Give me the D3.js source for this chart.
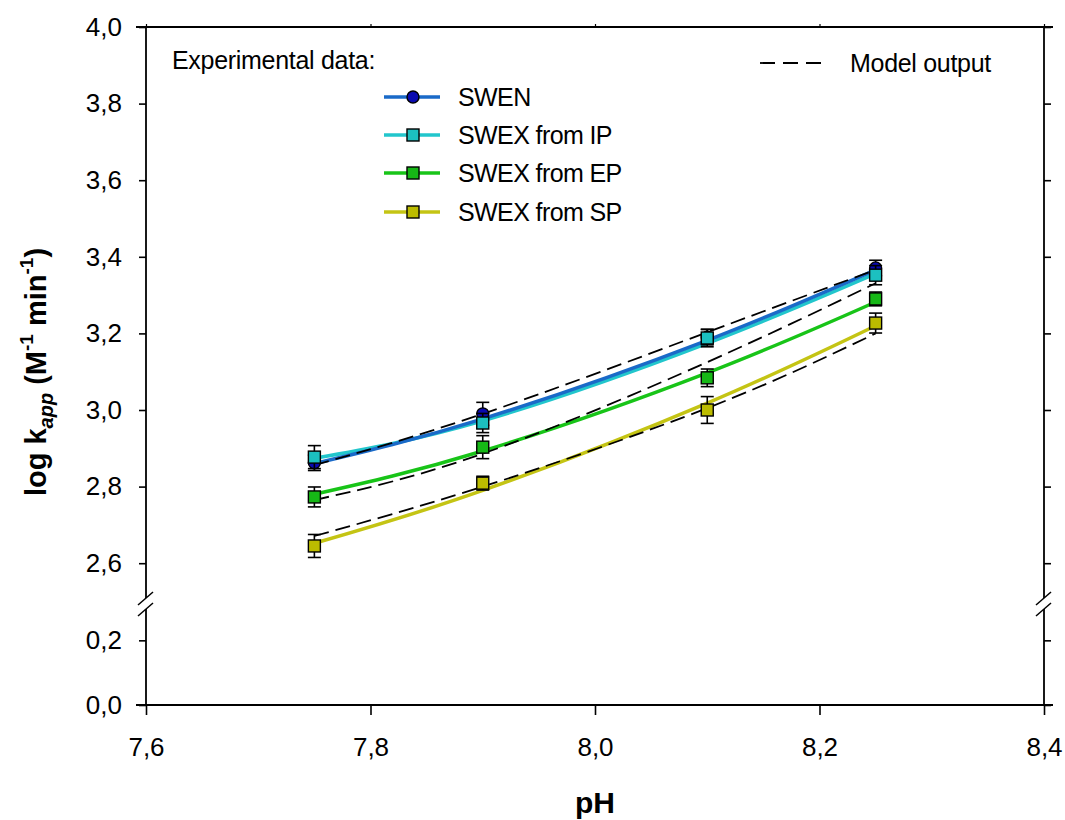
<!DOCTYPE html>
<html>
<head>
<meta charset="utf-8">
<script src="https://cdn.jsdelivr.net/npm/d3@7"></script>
<style>
  html, body { margin: 0; padding: 0; background: #fff; }
  svg { display: block; font-family: "Liberation Sans", Arial, sans-serif; }
</style>
</head>
<body>
<svg id="chart" width="1065" height="820"></svg>
<script>
// Measured pH values
const pH = [7.75, 7.9, 8.1, 8.25];

// Experimental log k_app values (M^-1 min^-1) and their errors
const swen     = [2.862, 2.990, 3.190, 3.371];
const swexIP   = [2.877, 2.966, 3.188, 3.352];
const swexEP   = [2.773, 2.903, 3.084, 3.290];
const swexSP   = [2.645, 2.809, 3.000, 3.227];
const errSWEN  = [0.020, 0.030, 0.020, 0.020];
const errIP    = [0.030, 0.025, 0.023, 0.025];
const errEP    = [0.026, 0.030, 0.023, 0.018];
const errSP    = [0.030, 0.018, 0.035, 0.026];

// Fitted trend curves through each data set
const fitSWEN  = [2.860, 2.977, 3.182, 3.366];
const fitIP    = [2.874, 2.972, 3.174, 3.356];
const fitEP    = [2.780, 2.893, 3.097, 3.282];
const fitSP    = [2.652, 2.790, 3.018, 3.220];

// Model output curves (dashed)
const model1   = [2.856, 2.990, 3.203, 3.366];
const model2   = [2.765, 2.886, 3.125, 3.331];
const model3   = [2.671, 2.800, 3.005, 3.200];

// Axis ticks
const xTicks      = [7.6, 7.8, 8.0, 8.2, 8.4];
const yTicksUpper = [2.6, 2.8, 3.0, 3.2, 3.4, 3.6, 3.8, 4.0];
const yTicksLower = [0.0, 0.2];

const seriesNames  = ["SWEN", "SWEX from IP", "SWEX from EP", "SWEX from SP"];
const lineColors   = ["#1a6ac8", "#22c6cc", "#18c418", "#c4c414"];
const markerColors = ["#0a0ab0", "#1cc0c0", "#16b816", "#bcbc00"];
const markerShapes = ["circle", "square", "square", "square"];

const svg = d3.select("#chart");
const L = 146, R = 1044, T = 27, B = 705;
const breakTop = 601.5, breakBot = 608;

const x = d3.scaleLinear().domain([7.6, 8.4]).range([L, R]);
const yU = d3.scaleLinear().domain([2.5, 4.0]).range([breakTop, T]);
const yL = d3.scaleLinear().domain([0, 0.3]).range([B, breakBot]);
const fmt = d => d3.format(".1f")(d).replace(".", ",");

// ---- axes ----
const axisG = svg.append("g");
const tickFont = g => g.selectAll("text")
  .attr("font-size", 26).attr("fill", "#000")
  .attr("font-family", "'Liberation Sans', Arial, sans-serif");

function yAxes(scale, ticks) {
  const left = axisG.append("g").attr("transform", `translate(${L},0)`)
    .call(d3.axisLeft(scale).tickValues(ticks).tickFormat(fmt).tickSize(7).tickPadding(17));
  left.select(".domain").remove();
  left.selectAll("line").attr("stroke", "#000").attr("stroke-width", 1.6);
  tickFont(left);
  const right = axisG.append("g").attr("transform", `translate(${R},0)`)
    .call(d3.axisRight(scale).tickValues(ticks).tickFormat("").tickSize(7));
  right.select(".domain").remove();
  right.selectAll("line").attr("stroke", "#000").attr("stroke-width", 1.6);
}
yAxes(yU, yTicksUpper);
yAxes(yL, yTicksLower);

const xb = axisG.append("g").attr("transform", `translate(0,${B})`)
  .call(d3.axisBottom(x).tickValues(xTicks).tickFormat(fmt).tickSize(10).tickPadding(23));
xb.select(".domain").remove();
xb.selectAll("line").attr("stroke", "#000").attr("stroke-width", 1.6);
tickFont(xb);

const xt = axisG.append("g").attr("transform", `translate(0,${T})`)
  .call(d3.axisTop(x).tickValues(xTicks).tickFormat("").tickSize(3));
xt.select(".domain").remove();
xt.selectAll("line").attr("stroke", "#000").attr("stroke-width", 1.2);

// frame lines (with a gap at the axis break)
const frame = [
  [L - 10, B, R + 9, B],
  [L - 10, T, R + 9, T],
  [L, T, L, 598], [L, 609, L, B],
  [R, T, R, 598], [R, 609, R, B]
];
axisG.selectAll("line.frame").data(frame).enter().append("line")
  .attr("class", "frame")
  .attr("x1", d => d[0]).attr("y1", d => d[1])
  .attr("x2", d => d[2]).attr("y2", d => d[3])
  .attr("stroke", "#000").attr("stroke-width", 1.8);

// break marks
[L, R].forEach(cx => {
  [-6, 5].forEach(dy => {
    axisG.append("line")
      .attr("x1", cx - 8).attr("y1", 604 + dy + 7)
      .attr("x2", cx + 7).attr("y2", 604 + dy - 6)
      .attr("stroke", "#000").attr("stroke-width", 1.5);
  });
});

// ---- axis titles ----
svg.append("text").attr("x", (L + R) / 2).attr("y", 813)
  .attr("text-anchor", "middle").attr("font-size", 30).attr("font-weight", "bold")
  .text("pH");

const yt = svg.append("text")
  .attr("transform", "translate(46,372) rotate(-90)")
  .attr("text-anchor", "middle").attr("font-size", 29).attr("font-weight", "bold");
yt.append("tspan").text("log k");
yt.append("tspan").attr("font-style", "italic").attr("font-size", 20).attr("dy", 7).text("app");
yt.append("tspan").attr("dy", -7).text(" (M");
yt.append("tspan").attr("font-size", 19).attr("dy", -13).text("-1");
yt.append("tspan").attr("dy", 13).text("  min");
yt.append("tspan").attr("font-size", 19).attr("dy", -13).text("-1");
yt.append("tspan").attr("dy", 13).text(")");

// ---- data ----
const seriesVals = [swen, swexIP, swexEP, swexSP];
const seriesErr  = [errSWEN, errIP, errEP, errSP];
const seriesFit  = [fitSWEN, fitIP, fitEP, fitSP];
const models     = [model1, model2, model3];

const lineGen = d3.line().x(d => x(d[0])).y(d => yU(d[1])).curve(d3.curveNatural);
const plot = svg.append("g");

// fitted curves (drawn bottom-up so blue sits on top of cyan)
[3, 2, 1, 0].forEach(i => {
  plot.append("path")
    .attr("d", lineGen(pH.map((p, j) => [p, seriesFit[i][j]])))
    .attr("fill", "none").attr("stroke", lineColors[i]).attr("stroke-width", 3.5);
});

// model curves
models.forEach(m => {
  plot.append("path")
    .attr("d", lineGen(pH.map((p, j) => [p, m[j]])))
    .attr("fill", "none").attr("stroke", "#000").attr("stroke-width", 1.8)
    .attr("stroke-dasharray", "15,7");
});

// error bars and markers
function drawMarker(g, shape, cx, cy, color) {
  if (shape === "circle") {
    g.append("circle").attr("cx", cx).attr("cy", cy).attr("r", 6)
      .attr("fill", color).attr("stroke", "#000").attr("stroke-width", 1.4);
  } else {
    g.append("rect").attr("x", cx - 6).attr("y", cy - 6)
      .attr("width", 12).attr("height", 12)
      .attr("fill", color).attr("stroke", "#000").attr("stroke-width", 1.4);
  }
}

[0, 1, 2, 3].forEach(i => {
  const g = plot.append("g");
  pH.forEach((p, j) => {
    const cx = x(p), v = seriesVals[i][j], e = seriesErr[i][j];
    const y1 = yU(v + e), y2 = yU(v - e);
    g.append("line").attr("x1", cx).attr("x2", cx).attr("y1", y1).attr("y2", y2)
      .attr("stroke", "#000").attr("stroke-width", 1.6);
    [y1, y2].forEach(yy => g.append("line")
      .attr("x1", cx - 6.5).attr("x2", cx + 6.5).attr("y1", yy).attr("y2", yy)
      .attr("stroke", "#000").attr("stroke-width", 1.6));
  });
  pH.forEach((p, j) => drawMarker(g, markerShapes[i], x(p), yU(seriesVals[i][j]), markerColors[i]));
});

// ---- legend ----
const leg = svg.append("g");
leg.append("text").attr("x", 172).attr("y", 69).attr("font-size", 25)
  .attr("letter-spacing", -0.3).text("Experimental data:");
const legY = [97, 135, 173, 212];
seriesNames.forEach((name, i) => {
  leg.append("line").attr("x1", 384).attr("x2", 440).attr("y1", legY[i]).attr("y2", legY[i])
    .attr("stroke", lineColors[i]).attr("stroke-width", 3.5);
  drawMarker(leg, markerShapes[i], 413, legY[i], markerColors[i]);
  leg.append("text").attr("x", 458).attr("y", legY[i] + 9).attr("font-size", 25)
    .attr("letter-spacing", -0.6).text(name);
});
leg.append("line").attr("x1", 760).attr("x2", 825).attr("y1", 63).attr("y2", 63)
  .attr("stroke", "#000").attr("stroke-width", 1.8).attr("stroke-dasharray", "15,8");
leg.append("text").attr("x", 850).attr("y", 72).attr("font-size", 25)
  .attr("letter-spacing", -0.3).text("Model output");
</script>
</body>
</html>
